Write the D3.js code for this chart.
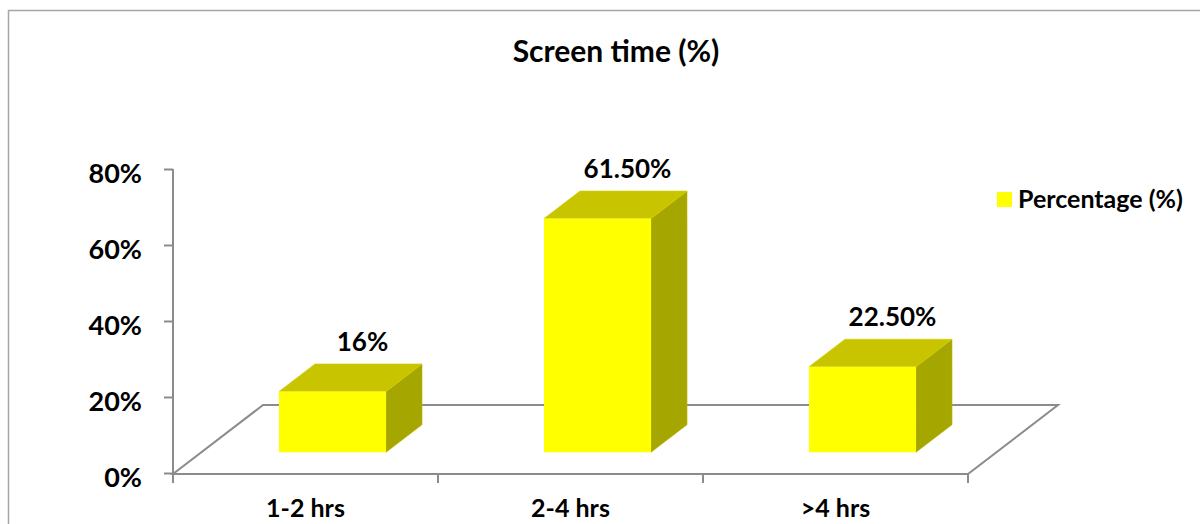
<!DOCTYPE html>
<html>
<head>
<meta charset="utf-8">
<script src="https://cdn.jsdelivr.net/npm/d3@7"></script>
<style>
  html, body { margin: 0; padding: 0; background: #fff; }
  svg { display: block; font-family: Lato, "Open Sans", sans-serif; font-weight: bold; }
</style>
</head>
<body>
<svg id="chart" width="1200" height="524"></svg>
<script>
// Screen time distribution
const categories = ["1-2 hrs", "2-4 hrs", ">4 hrs"];
const values = [0.16, 0.615, 0.225];
const valueLabels = ["16%", "61.50%", "22.50%"];
const yTicks = [0, 0.2, 0.4, 0.6, 0.8];
const seriesName = "Percentage (%)";
const title = "Screen time (%)";

const svg = d3.select("#chart");

// Plot frame (front plane)
const plotLeft = 173, plotRight = 968, plotBottom = 473, plotTop = 169;
// Floor depth vector and bar placement inside the depth
const depth = { dx: 90, dy: -69 };
const front = 0.3, back = 0.7;

const y = d3.scaleLinear().domain([0, 0.8]).range([plotBottom, plotTop]);
const x = d3.scaleBand().domain(categories).range([plotLeft, plotRight])
  .paddingInner(0.596).paddingOuter(0.298);

const gray = "#8c8c8c";
const cFront = "#ffff00", cTop = "#c8c400", cSide = "#a6a600";

// Outer chart border
svg.append("path")
  .attr("d", "M8.5,530 V10.5 H1210")
  .attr("fill", "none").attr("stroke", "#a6a6a6").attr("stroke-width", 1.5);

// Title
svg.append("text").attr("x", 616).attr("y", 62).attr("text-anchor", "middle")
  .attr("font-size", 30).attr("fill", "#000").text(title);

// Floor outline
const fl = [[plotLeft, plotBottom + 1], [plotRight, plotBottom + 1],
  [plotRight + depth.dx, plotBottom + 1 + depth.dy], [plotLeft + depth.dx, plotBottom + 1 + depth.dy]];
svg.append("path")
  .attr("d", d3.line()(fl) + "Z")
  .attr("fill", "none").attr("stroke", gray).attr("stroke-width", 2);

// Y axis
const yAxis = d3.axisLeft(y).tickValues(yTicks).tickFormat(d3.format(".0%"))
  .tickSizeInner(9).tickSizeOuter(0).tickPadding(22);
const gy = svg.append("g").attr("transform", `translate(${plotLeft},0)`).call(yAxis);
gy.select(".domain").attr("stroke", gray).attr("stroke-width", 2)
  .attr("d", `M0,${plotTop}V${plotBottom + 1}`);
gy.selectAll(".tick line").attr("stroke", gray).attr("stroke-width", 2);
gy.selectAll(".tick text").attr("font-size", 27).attr("font-family", "Lato, sans-serif")
  .attr("font-weight", "bold").attr("fill", "#000").attr("dy", "0.5em");

// X axis: boundary ticks and category labels
const bounds = [plotLeft].concat(categories.map(c => x(c) - x.step() * x.paddingOuter() + x.step()));
svg.append("g").selectAll("line").data(bounds).join("line")
  .attr("x1", d => d).attr("x2", d => d)
  .attr("y1", plotBottom + 1).attr("y2", plotBottom + 10)
  .attr("stroke", gray).attr("stroke-width", 2);
const xAxis = d3.axisBottom(x).tickSize(0).tickPadding(0);
const gx = svg.append("g").attr("transform", `translate(0,${plotBottom})`).call(xAxis);
gx.select(".domain").remove();
gx.selectAll(".tick text").attr("font-size", 25).attr("font-family", "Lato, sans-serif")
  .attr("font-weight", "bold").attr("fill", "#000").attr("dy", 0).attr("y", 44);

// 3D bars
const offX0 = depth.dx * front, offY0 = depth.dy * front;
const bdx = depth.dx * (back - front), bdy = depth.dy * (back - front);
const bars = svg.append("g").selectAll("g").data(categories.map((c, i) => ({ c, v: values[i], label: valueLabels[i] })))
  .join("g");
bars.each(function (d) {
  const g = d3.select(this);
  const x0 = x(d.c) + offX0, x1 = x0 + x.bandwidth();
  const yb = y(0) + offY0, yt = y(d.v) + offY0;
  // side face
  g.append("path").attr("d", d3.line()([[x1, yt], [x1 + bdx, yt + bdy], [x1 + bdx, yb + bdy], [x1, yb]]) + "Z")
    .attr("fill", cSide).attr("stroke", "#b8b800").attr("stroke-width", 0.6);
  // top face
  g.append("path").attr("d", d3.line()([[x0, yt], [x0 + bdx, yt + bdy], [x1 + bdx, yt + bdy], [x1, yt]]) + "Z")
    .attr("fill", cTop).attr("stroke", "#d4d000").attr("stroke-width", 0.6);
  // front face
  g.append("rect").attr("x", x0).attr("y", yt).attr("width", x1 - x0).attr("height", yb - yt)
    .attr("fill", cFront);
  // value label
  g.append("text").attr("x", (x0 + x1) / 2 + 30).attr("y", yt + bdy - 13)
    .attr("text-anchor", "middle").attr("font-size", 26).attr("fill", "#000").text(d.label);
});

// Legend
svg.append("rect").attr("x", 997).attr("y", 192).attr("width", 15).attr("height", 15).attr("fill", cFront);
svg.append("text").attr("x", 1018).attr("y", 208).attr("font-size", 25).attr("fill", "#000").text(seriesName);
</script>
</body>
</html>
